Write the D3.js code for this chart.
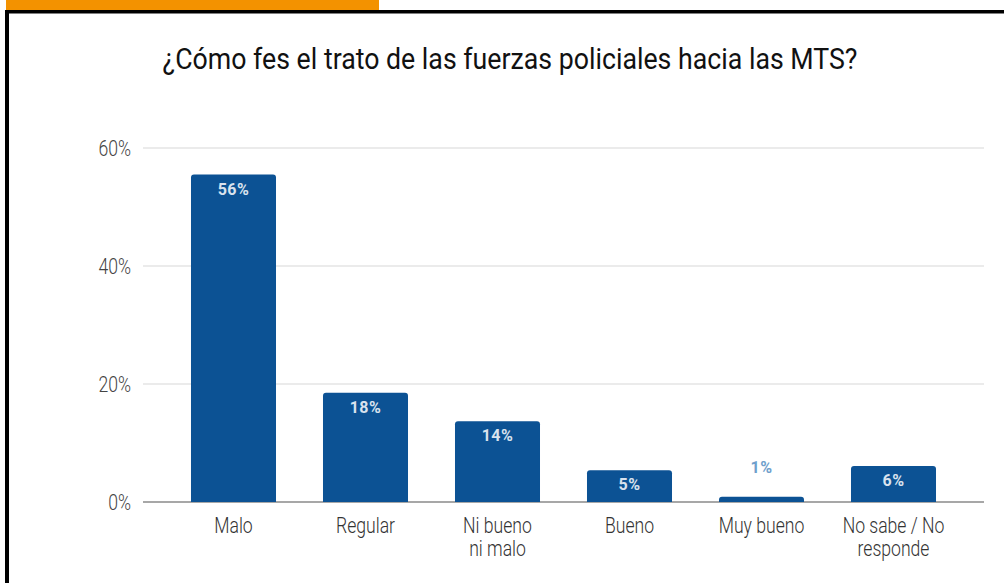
<!DOCTYPE html>
<html>
<head>
<meta charset="utf-8">
<script src="https://cdn.jsdelivr.net/npm/d3@7"></script>
<style>
  body { margin: 0; background: #fff; }
  svg { display: block; }
</style>
</head>
<body>
<div id="chart"></div>
<script>
// data
var categories = ["Malo", "Regular", "Ni bueno|ni malo", "Bueno", "Muy bueno", "No sabe / No|responde"];
var values = [55.5, 18.5, 13.7, 5.4, 0.9, 6.1];
var valueLabels = ["56%", "18%", "14%", "5%", "1%", "6%"];
var yTicks = [0, 20, 40, 60];
var title = "¿Cómo fes el trato de las fuerzas policiales hacia las MTS?";

var width = 1004, height = 583;
var font = "'Roboto', 'Liberation Sans', sans-serif";
var squeeze = 0.8; // the original uses a condensed face

var svg = d3.select("#chart").append("svg")
  .attr("width", width)
  .attr("height", height);

// orange tab + black frame
svg.append("rect").attr("x", 6).attr("y", 0).attr("width", 373).attr("height", 10).attr("fill", "#f39200");
svg.append("rect").attr("x", 5).attr("y", 10).attr("width", width - 5).attr("height", 3.5).attr("fill", "#000");
svg.append("rect").attr("x", 5).attr("y", 10).attr("width", 4).attr("height", height - 10).attr("fill", "#000");

// title
svg.append("text")
  .attr("x", 510)
  .attr("y", 69)
  .attr("text-anchor", "middle")
  .attr("font-family", font)
  .attr("font-size", "29px")
  .attr("fill", "#111")
  .attr("textLength", 695)
  .attr("lengthAdjust", "spacingAndGlyphs")
  .text(title);

// scales
var y = d3.scaleLinear().domain([0, 60]).range([502, 148]);
var x = d3.scaleBand()
  .domain(categories)
  .range([167.5, 959.5])
  .paddingInner(0.356)
  .paddingOuter(0.178);

var gridLeft = 143, gridRight = 984;

// grid lines
svg.append("g").selectAll("line")
  .data(yTicks)
  .enter()
  .append("line")
  .attr("x1", gridLeft)
  .attr("x2", gridRight)
  .attr("y1", function(d) { return y(d); })
  .attr("y2", function(d) { return y(d); })
  .attr("stroke", function(d) { return d === 0 ? "#8a8a8a" : "#e4e4e4"; })
  .attr("stroke-width", 1.5);

// y tick labels
svg.append("g").selectAll("g")
  .data(yTicks)
  .enter()
  .append("g")
  .attr("transform", function(d) { return "translate(131," + (y(d) + 8) + ") scale(" + squeeze + ",1)"; })
  .append("text")
  .attr("text-anchor", "end")
  .attr("font-family", font)
  .attr("font-weight", 300)
  .attr("font-size", "22px")
  .attr("fill", "#444")
  .text(function(d) { return d + "%"; });

// bars with rounded top corners
function barPath(x0, w, top, bottom, r) {
  r = Math.min(r, (bottom - top));
  return "M" + x0 + "," + bottom +
    "V" + (top + r) +
    "Q" + x0 + "," + top + " " + (x0 + r) + "," + top +
    "H" + (x0 + w - r) +
    "Q" + (x0 + w) + "," + top + " " + (x0 + w) + "," + (top + r) +
    "V" + bottom + "Z";
}

svg.append("g").selectAll("path")
  .data(values)
  .enter()
  .append("path")
  .attr("d", function(d, i) {
    return barPath(x(categories[i]), x.bandwidth(), y(d), y(0), 3);
  })
  .attr("fill", "#0c5294");

// value labels
function isSmall(d) { return (y(0) - y(d)) < 22; }
svg.append("g").selectAll("text")
  .data(values)
  .enter()
  .append("text")
  .attr("x", function(d, i) { return x(categories[i]) + x.bandwidth() / 2; })
  .attr("y", function(d) { return isSmall(d) ? y(d) - 24 : y(d) + 20; })
  .attr("text-anchor", "middle")
  .attr("font-family", font)
  .attr("font-weight", "bold")
  .attr("font-size", "16px")
  .attr("letter-spacing", "0.5px")
  .attr("fill", function(d) { return isSmall(d) ? "#6f9fcc" : "#d9e2ee"; })
  .text(function(d, i) { return valueLabels[i]; });

// category labels (two lines where needed)
var catG = svg.append("g").selectAll("g")
  .data(categories)
  .enter()
  .append("g")
  .attr("transform", function(d) {
    return "translate(" + (x(d) + x.bandwidth() / 2) + ",533) scale(" + squeeze + ",1)";
  })
  .append("text")
  .attr("text-anchor", "middle")
  .attr("font-family", font)
  .attr("font-weight", 300)
  .attr("font-size", "22px")
  .attr("fill", "#333");

catG.each(function(d) {
  var t = d3.select(this);
  d.split("|").forEach(function(line, i) {
    t.append("tspan")
      .attr("x", 0)
      .attr("dy", i === 0 ? 0 : 23)
      .text(line);
  });
});
</script>
</body>
</html>
